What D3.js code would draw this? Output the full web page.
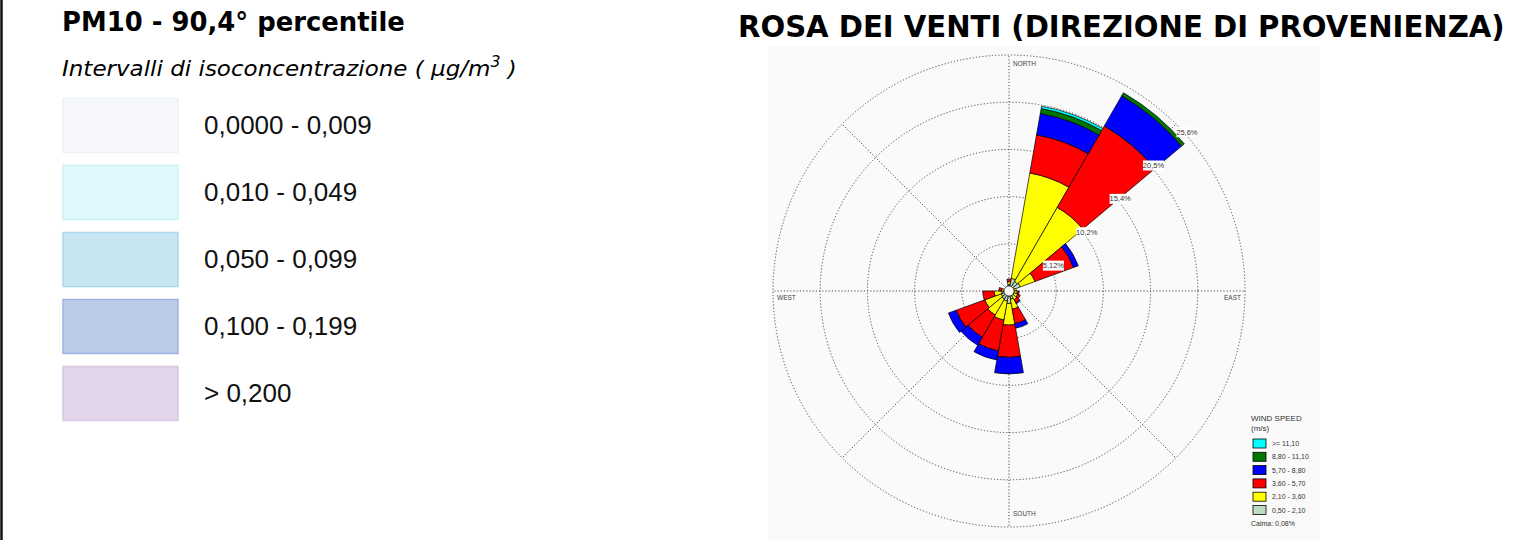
<!DOCTYPE html>
<html>
<head>
<meta charset="utf-8">
<script src="https://cdn.jsdelivr.net/npm/d3@7"></script>
<style>
  html, body { margin: 0; padding: 0; background: #fff; }
  svg { display: block; }
</style>
</head>
<body>
<svg id="chart" width="1526" height="540"></svg>
<script>

// left panel: concentration intervals
var concLabels = ["0,0000 - 0,009", "0,010 - 0,049", "0,050 - 0,099", "0,100 - 0,199", "> 0,200"];
var concFill   = ["#f6f8fd", "#e0f8fc", "#c8e6f2", "#bccbe9", "#e2d5ea"];
var concStroke = ["#eef1fa", "#ccf1f8", "#acd8ee", "#a0b2e2", "#d8c8e2"];

// wind rose, 18 sectors of 20 deg, frequency (%) per speed class
var directions = [0, 20, 40, 60, 80, 100, 120, 140, 160, 180, 200, 220, 240, 260, 280, 300, 320, 340];
var speedClasses = ["0,50 - 2,10", "2,10 - 3,60", "3,60 - 5,70", "5,70 - 8,80", "8,80 - 11,10", ">= 11,10"];
var freq050 = [0.7, 1.4, 1.2, 1.3, 0.5, 0.5, 0.6, 0.6, 0.9, 1.35, 1.1, 1.0, 0.9, 0.8, 0.5, 0, 0, 0.2];
var freq210 = [0.3, 11.6, 9.27, 1.7, 0.3, 0.4, 0.4, 0.5, 1.1, 2.35, 2.1, 2.0, 1.9, 0.8, 0.3, 0, 0, 0];
var freq360 = [0.3, 4.2, 10.2, 4.45, 0, 0.2, 0.3, 0.4, 1.6, 3.5, 3.4, 2.8, 3.3, 1.25, 0.3, 0, 0, 0];
var freq570 = [0, 2.35, 3.78, 0.55, 0, 0, 0, 0.1, 0.5, 1.8, 1.0, 1.0, 0.9, 0, 0, 0, 0, 0];
var freq880 = [0, 0.55, 0.38, 0, 0, 0, 0, 0, 0, 0, 0, 0, 0, 0, 0, 0, 0, 0];
var freq1110 = [0, 0.26, 0, 0, 0, 0, 0, 0, 0, 0, 0, 0, 0, 0, 0, 0, 0, 0];
var speedColors = ["#c0dcc0", "#ffff00", "#ff0000", "#0000ff", "#007800", "#00ffff"];
var calmLabel = "Calma: 0,08%";

var ringValues = [5.12, 10.24, 15.36, 20.48, 25.6];
var ringLabels = ["5,12%", "10,2%", "15,4%", "20,5%", "25,6%"];
var compass = [
  { name: "NORTH", deg: 0 }, { name: "EAST", deg: 90 },
  { name: "SOUTH", deg: 180 }, { name: "WEST", deg: 270 }
];

var svg = d3.select("#chart"),
    width = +svg.attr("width"),
    height = +svg.attr("height");

// frame line on the left
svg.append("line")
    .attr("x1", 1.5).attr("x2", 1.5)
    .attr("y1", 0).attr("y2", height)
    .attr("stroke", "#111")
    .attr("stroke-width", 2.5);

// squeeze a heading to the width it has in the picture
function heading(x, y, target, build) {
  var g = svg.append("g");
  var t = g.append("text").attr("fill", "#000");
  build(t);
  var w = t.node().getBBox().width;
  g.attr("transform", "translate(" + x + "," + y + ") scale(" + (target / w) + ",1)");
  return t;
}

heading(62, 31, 343, function(t) {
  t.attr("font-family", "'DejaVu Sans', sans-serif")
   .attr("font-weight", "bold")
   .attr("font-size", 26)
   .text("PM10 - 90,4° percentile");
});

heading(62, 76, 455, function(t) {
  t.attr("font-family", "'DejaVu Sans', sans-serif")
   .attr("font-style", "italic")
   .attr("font-size", 22);
  t.append("tspan").text("Intervalli di isoconcentrazione ( µg/m");
  t.append("tspan").attr("dy", -9).attr("font-size", 15).text("3");
  t.append("tspan").attr("dy", 9).text(" )");
});

heading(738, 37, 767, function(t) {
  t.attr("font-family", "'DejaVu Sans', sans-serif")
   .attr("font-weight", "bold")
   .attr("font-size", 30)
   .text("ROSA DEI VENTI (DIREZIONE DI PROVENIENZA)");
});

// concentration legend
var conc = svg.append("g").selectAll("g")
    .data(concLabels)
    .enter().append("g")
    .attr("transform", function(d, i) { return "translate(63," + (98.5 + i * 67) + ")"; });

conc.append("rect")
    .attr("width", 115)
    .attr("height", 54)
    .attr("fill", function(d, i) { return concFill[i]; })
    .attr("stroke", function(d, i) { return concStroke[i]; })
    .attr("stroke-width", 1.5);

conc.append("text")
    .attr("x", 141)
    .attr("y", 35.5)
    .attr("font-family", "'Liberation Sans', Arial, sans-serif")
    .attr("font-size", 26)
    .attr("fill", "#111")
    .text(function(d) { return d; });

// wind rose
var cx = 1009, cy = 291, R = 236, calmR = 5;

svg.append("rect")
    .attr("x", 768).attr("y", 46)
    .attr("width", 552).attr("height", height - 46)
    .attr("fill", "#fafafa");

var rose = svg.append("g").attr("transform", "translate(" + cx + "," + cy + ")");

var r = d3.scaleLinear().domain([0, d3.max(ringValues)]).range([0, R]);
var ang = d3.scaleLinear().domain([0, 360]).range([0, 2 * Math.PI]);

// grid (dotted)
var grid = rose.append("g")
    .attr("fill", "none")
    .attr("stroke", "#4a4a4a")
    .attr("stroke-width", 1)
    .attr("stroke-dasharray", "1.2,2");

grid.selectAll("circle")
    .data(ringValues)
    .enter().append("circle")
    .attr("r", function(d) { return r(d); });

grid.selectAll("line")
    .data(d3.range(0, 360, 45))
    .enter().append("line")
    .attr("x1", 0).attr("y1", 0)
    .attr("x2", function(d) { return R * Math.sin(ang(d)); })
    .attr("y2", function(d) { return -R * Math.cos(ang(d)); });

// bars
var series = [freq050, freq210, freq360, freq570, freq880, freq1110];
var rows = directions.map(function(dir, i) {
  var row = { dir: dir };
  speedClasses.forEach(function(k, j) { row[k] = series[j][i]; });
  return row;
});
var layers = d3.stack().keys(speedClasses)(rows);

var arc = d3.arc()
    .innerRadius(function(d) { return Math.max(calmR, r(d[0])); })
    .outerRadius(function(d) { return Math.max(calmR, r(d[1])); })
    .startAngle(function(d) { return ang(d.data.dir - 10); })
    .endAngle(function(d) { return ang(d.data.dir + 10); });

rose.append("g").selectAll("g")
    .data(layers)
    .enter().append("g")
    .attr("fill", function(d, i) { return speedColors[i]; })
    .attr("stroke", "#000")
    .attr("stroke-width", 0.7)
  .selectAll("path")
    .data(function(d) { return d.filter(function(s) { return s[1] - s[0] > 0; }); })
    .enter().append("path")
    .attr("d", arc);

// calm circle
rose.append("circle")
    .attr("r", calmR)
    .attr("fill", "#fff")
    .attr("stroke", "#333")
    .attr("stroke-width", 0.8);

// ring labels
var rl = rose.append("g").selectAll("g")
    .data(ringValues)
    .enter().append("g")
    .attr("transform", function(d) {
      var p = r(d) * Math.SQRT1_2;
      return "translate(" + (p + 11) + "," + (-p + 8) + ")";
    });

rl.append("rect")
    .attr("x", -10.5).attr("y", -5)
    .attr("width", 21).attr("height", 10)
    .attr("fill", "#fff");

rl.append("text")
    .attr("text-anchor", "middle")
    .attr("dy", "0.35em")
    .attr("font-family", "'Liberation Sans', Arial, sans-serif")
    .attr("font-size", 7.5)
    .attr("fill", "#333")
    .text(function(d, i) { return ringLabels[i]; });

// compass labels
rose.append("g")
    .attr("font-family", "'Liberation Sans', Arial, sans-serif")
    .attr("font-size", 6.5)
    .attr("fill", "#444")
  .selectAll("text")
    .data(compass)
    .enter().append("text")
    .attr("x", function(d) {
      if (d.deg === 90) return R - 4;
      if (d.deg === 270) return -R + 4;
      return 4;
    })
    .attr("y", function(d) {
      if (d.deg === 0) return -R + 11;
      if (d.deg === 180) return R - 11;
      return 9;
    })
    .attr("text-anchor", function(d) { return d.deg === 90 ? "end" : "start"; })
    .text(function(d) { return d.name; });

// speed legend
var leg = svg.append("g")
    .attr("transform", "translate(1251,0)")
    .attr("font-family", "'Liberation Sans', Arial, sans-serif")
    .attr("fill", "#333");

leg.append("text").attr("x", 0).attr("y", 421).attr("font-size", 8).text("WIND SPEED");
leg.append("text").attr("x", 0).attr("y", 431).attr("font-size", 8).text("(m/s)");

var items = leg.selectAll("g.item")
    .data(speedClasses.slice().reverse())
    .enter().append("g")
    .attr("class", "item")
    .attr("transform", function(d, i) { return "translate(0," + (443.5 + i * 13.3) + ")"; });

items.append("rect")
    .attr("x", 2).attr("y", -4.5)
    .attr("width", 13).attr("height", 9)
    .attr("fill", function(d) { return speedColors[speedClasses.indexOf(d)]; })
    .attr("stroke", "#000")
    .attr("stroke-width", 0.8);

items.append("text")
    .attr("x", 21)
    .attr("y", 2.5)
    .attr("font-size", 7)
    .text(function(d) { return d; });

leg.append("text").attr("x", 0).attr("y", 526).attr("font-size", 7).text(calmLabel);

</script>
</body>
</html>
